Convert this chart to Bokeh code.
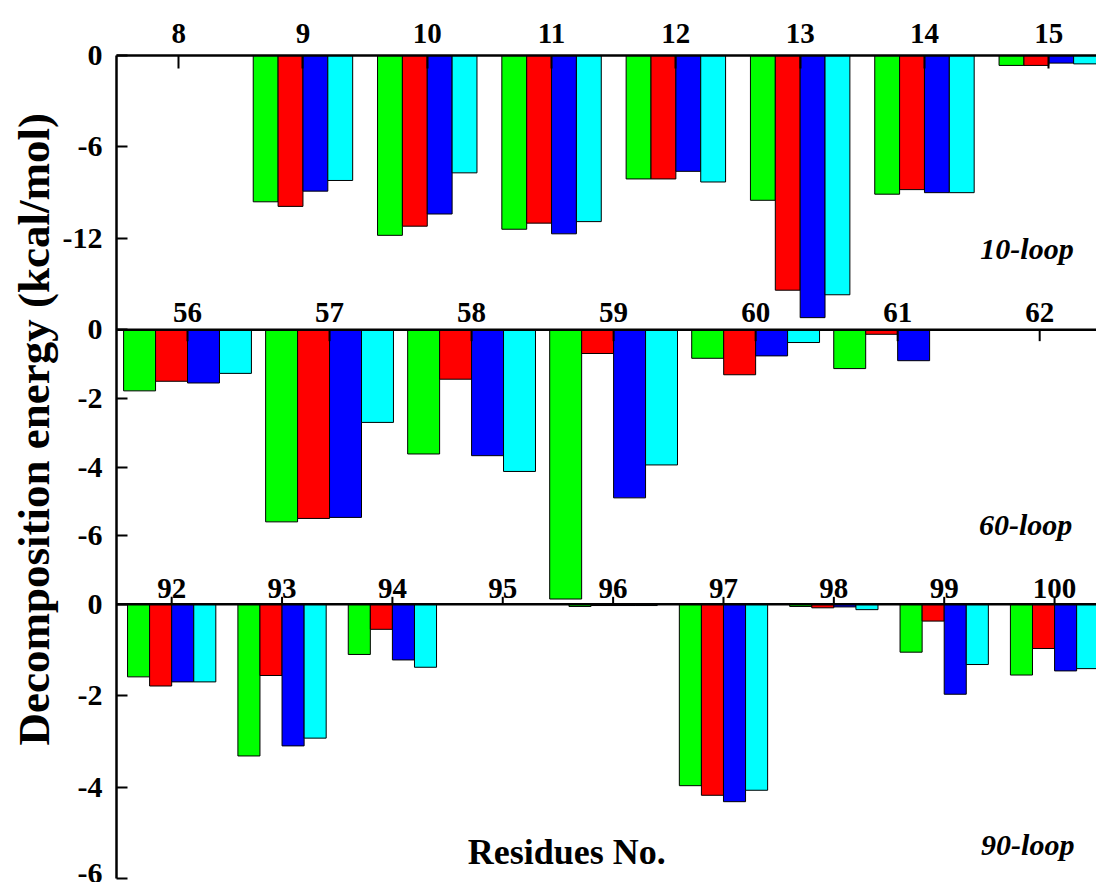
from bokeh.plotting import figure
from bokeh.models import Range1d, LinearAxis, FixedTicker, ColumnDataSource, Label, Title
from bokeh.transform import dodge
from bokeh.core.properties import value
from bokeh.embed import file_html
from bokeh.resources import INLINE

# ---------------- data ----------------
colors = ["#00FF00", "#FF0000", "#0000FF", "#00FFFF"]

res_10 = [8, 9, 10, 11, 12, 13, 14, 15]
g_10 = [0.0, -9.6, -11.8, -11.4, -8.1, -9.5, -9.1, -0.65]
r_10 = [0.0, -9.9, -11.2, -11.0, -8.1, -15.4, -8.8, -0.65]
b_10 = [0.0, -8.9, -10.4, -11.7, -7.6, -17.2, -9.0, -0.5]
c_10 = [0.0, -8.2, -7.7, -10.9, -8.3, -15.7, -9.0, -0.55]

res_60 = [56, 57, 58, 59, 60, 61, 62]
g_60 = [-1.78, -5.6, -3.62, -7.85, -0.83, -1.13, 0.0]
r_60 = [-1.5, -5.5, -1.44, -0.69, -1.31, -0.13, 0.0]
b_60 = [-1.55, -5.47, -3.67, -4.9, -0.76, -0.9, 0.0]
c_60 = [-1.27, -2.7, -4.13, -3.94, -0.37, 0.0, 0.0]

res_90 = [92, 93, 94, 95, 96, 97, 98, 99, 100]
g_90 = [-1.59, -3.32, -1.1, 0.0, -0.05, -3.97, -0.05, -1.05, -1.55]
r_90 = [-1.79, -1.56, -0.55, 0.0, -0.03, -4.18, -0.08, -0.37, -0.97]
b_90 = [-1.7, -3.1, -1.22, 0.0, -0.03, -4.32, -0.06, -1.97, -1.46]
c_90 = [-1.7, -2.93, -1.38, 0.0, -0.03, -4.07, -0.12, -1.32, -1.41]

ticks_10 = [0, -6, -12]
ticks_60 = [0, -2, -4, -6]
ticks_90 = [0, -2, -4, -6]
span_10, span_60, span_90 = 18, 8, 6

loop_names = ["10-loop", "60-loop", "90-loop"]
y_title = "Decomposition energy (kcal/mol)"
x_title = "Residues No."

# ---------------- figure ----------------
FONT = value("Liberation Serif")
UNIT = 72  # main coordinate units per panel

p = figure(width=1096, height=882, output_backend="svg", toolbar_location=None,
           x_range=Range1d(0, 1), y_range=Range1d(-3 * UNIT, 0),
           x_axis_location=None,
           min_border_left=116, min_border_right=0, min_border_top=55, min_border_bottom=4)
p.grid.visible = False
p.outline_line_color = None
p.background_fill_color = "white"
p.border_fill_color = "white"

# per-panel ranges (each panel occupies one third of the frame)
p.extra_x_ranges = {
    "x10": Range1d(7.5, 15.384),
    "x60": Range1d(55.5, 62.40),
    "x90": Range1d(91.5, 100.38),
}
p.extra_y_ranges = {
    "y10": Range1d(-3 * span_10, 0),
    "y60": Range1d(-2 * span_60, span_60),
    "y90": Range1d(-span_90, 2 * span_90),
}

panels = [
    ("10", res_10, [g_10, r_10, b_10, c_10], 0.2),
    ("60", res_60, [g_60, r_60, b_60, c_60], 0.225),
    ("90", res_90, [g_90, r_90, b_90, c_90], 0.2),
]

for key, res, vals, w in panels:
    src = ColumnDataSource(dict(res=res, g=vals[0], r=vals[1], b=vals[2], c=vals[3]))
    for i, col in enumerate(["g", "r", "b", "c"]):
        p.vbar(x=dodge("res", (i - 1.5) * w), width=w, top=0, bottom=col, source=src,
               fill_color=colors[i], line_color="black", line_width=1,
               x_range_name="x" + key, y_range_name="y" + key)

# panel 1 residue axis on top
top_ax = LinearAxis(x_range_name="x10", ticker=FixedTicker(ticks=res_10))
top_ax.axis_line_width = 2.5
top_ax.axis_line_color = "black"
top_ax.major_tick_line_width = 2
top_ax.major_tick_line_color = "black"
top_ax.major_tick_in = 13
top_ax.major_tick_out = 0
top_ax.minor_tick_line_color = None
top_ax.major_label_standoff = 13
top_ax.major_label_text_font = "Liberation Serif"
top_ax.major_label_text_font_style = "bold"
top_ax.major_label_text_font_size = "29px"
top_ax.major_label_text_color = "black"
p.add_layout(top_ax, "above")

# panels 2 and 3: zero lines, residue ticks and labels
for key, res, lo, hi, tick_len, off in [("60", res_60, 55.5, 62.40, -0.33, -17),
                                        ("90", res_90, 91.5, 100.38, 0.16, -16)]:
    p.segment(x0=[lo], x1=[hi], y0=[0], y1=[0], line_color="black", line_width=2.5,
              x_range_name="x" + key, y_range_name="y" + key)
    tsrc = ColumnDataSource(dict(res=res, z=[0] * len(res), t=[tick_len] * len(res),
                                 lab=[str(v) for v in res]))
    p.segment(x0="res", x1="res", y0="z", y1="t", source=tsrc, line_color="black",
              line_width=2, x_range_name="x" + key, y_range_name="y" + key)
    p.text(x="res", y="z", text="lab", source=tsrc, y_offset=off,
           text_align="center", text_baseline="alphabetic",
           text_font=FONT, text_font_style="bold", text_font_size="29px",
           text_color="black", x_range_name="x" + key, y_range_name="y" + key)

# left axis: one spine, three stacked value scales
tick_vals, overrides = [], {}
for k, (ticks, span) in enumerate([(ticks_10, span_10), (ticks_60, span_60), (ticks_90, span_90)]):
    for t in ticks:
        mv = -k * UNIT + t * UNIT // span
        tick_vals.append(mv)
        overrides[mv] = str(t)
ax = p.yaxis[0]
ax.ticker = FixedTicker(ticks=tick_vals)
ax.major_label_overrides = overrides
ax.axis_line_width = 2.5
ax.axis_line_color = "black"
ax.major_tick_line_width = 2
ax.major_tick_line_color = "black"
ax.major_tick_in = 11
ax.major_tick_out = 0
ax.minor_tick_line_color = None
ax.major_label_standoff = 14
ax.major_label_text_font = "Liberation Serif"
ax.major_label_text_font_style = "bold"
ax.major_label_text_font_size = "30px"
ax.major_label_text_color = "black"

# vertical y title in the left margin (offset from the frame bottom)
p.add_layout(Title(text=y_title, align="left", offset=133, standoff=2,
                   text_font="Liberation Serif", text_font_style="bold",
                   text_font_size="45px", text_color="black"), "left")

# loop labels and x title
for name, xr, yr, xv, yv in [(loop_names[0], "x10", "y10", 15.2, -12.66),
                             (loop_names[1], "x60", "y60", 62.23, -5.69),
                             (loop_names[2], "x90", "y90", 100.18, -5.25)]:
    p.add_layout(Label(x=xv, y=yv, x_range_name=xr, y_range_name=yr, text=name,
                       text_align="right", text_baseline="alphabetic",
                       text_font="Liberation Serif", text_font_style="bold italic",
                       text_font_size="30px", text_color="black"))
p.add_layout(Label(x=95.58, y=-5.43, x_range_name="x90", y_range_name="y90",
                   text=x_title, text_align="center", text_baseline="alphabetic",
                   text_font="Liberation Serif", text_font_style="bold",
                   text_font_size="36px", text_color="black"))

open("out.html", "w").write(file_html(p, INLINE))
